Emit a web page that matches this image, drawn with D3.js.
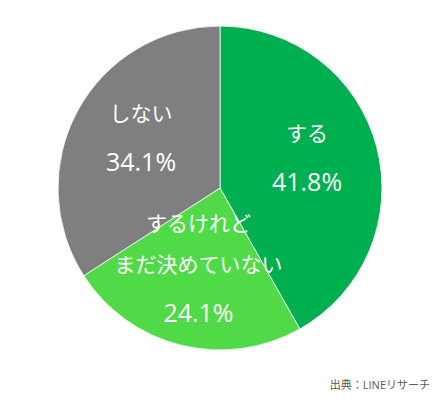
<!DOCTYPE html>
<html>
<head>
<meta charset="utf-8">
<script src="https://cdn.jsdelivr.net/npm/d3@7"></script>
<style>
  body { margin: 0; background: #fff; }
  text { font-family: "Open Sans", "Noto Sans CJK JP", sans-serif; }
</style>
</head>
<body>
<svg id="pie"></svg>
<script>
// Data
var categories = ["する", "するけれど\nまだ決めていない", "しない"];
var values = [41.8, 24.1, 34.1];
var colors = ["#00b050", "#50da48", "#7f7f7f"];
var source = "出典：LINEリサーチ";

var width = 440, height = 399;
var cx = 220, cy = 188, radius = 162;

var svg = d3.select("#pie")
    .attr("width", width)
    .attr("height", height);

var g = svg.append("g")
    .attr("transform", "translate(" + cx + "," + cy + ")");

var data = categories.map(function(c, i) {
  return { name: c, value: values[i], color: colors[i] };
});

var pie = d3.pie()
    .sort(null)
    .value(function(d) { return d.value; });

var arc = d3.arc().innerRadius(0).outerRadius(radius);
var labelArc = d3.arc().innerRadius(90).outerRadius(90);

var arcs = pie(data);

// slices
g.selectAll("path")
  .data(arcs)
  .enter()
  .append("path")
  .attr("d", arc)
  .attr("fill", function(d) { return d.data.color; })
  .attr("stroke", "#fff")
  .attr("stroke-width", 0.8);

// labels: name lines then percentage
arcs.forEach(function(d) {
  var c = labelArc.centroid(d);
  var lines = d.data.name.split("\n");
  var gaps = [];
  for (var i = 1; i < lines.length; i++) gaps.push(41);
  gaps.push(48);
  var total = d3.sum(gaps);
  var y = c[1] - 7 - total / 2;
  lines.forEach(function(l, i) {
    g.append("text")
      .attr("x", c[0])
      .attr("y", y)
      .attr("dy", "0.35em")
      .attr("text-anchor", "middle")
      .attr("fill", "#fff")
      .style("font-size", "21px")
      .text(l);
    y += gaps[i];
  });
  g.append("text")
    .attr("x", c[0])
    .attr("y", y)
    .attr("dy", "0.36em")
    .attr("text-anchor", "middle")
    .attr("fill", "#fff")
    .style("font-size", "25px")
    .text(d3.format(".1f")(d.data.value) + "%");
});

// source
svg.append("text")
  .attr("x", 430)
  .attr("y", 389)
  .attr("text-anchor", "end")
  .attr("fill", "#595959")
  .style("font-size", "11px")
  .text(source);
</script>
</body>
</html>
